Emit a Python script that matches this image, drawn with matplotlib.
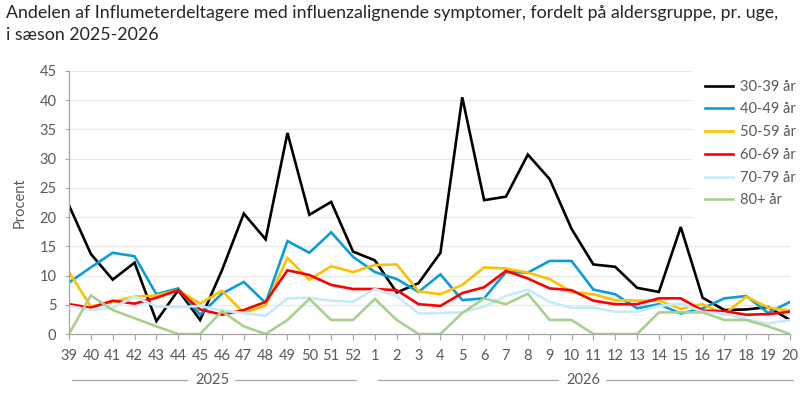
import numpy as np
import matplotlib
matplotlib.use("Agg")
import matplotlib.pyplot as plt
import matplotlib.transforms as mtransforms

# --------- DATA -----------
weeks = [39, 40, 41, 42, 43, 44, 45, 46, 47, 48, 49, 50, 51, 52,
         1, 2, 3, 4, 5, 6, 7, 8, 9, 10, 11, 12, 13, 14, 15, 16, 17, 18, 19, 20]
years = [("2025", 0, 13), ("2026", 14, 33)]  # label, first index, last index

age_30_39 = [22.0, 13.7, 9.3, 12.2, 2.2, 7.5, 2.4, 10.9, 20.6, 16.2, 34.4, 20.4, 22.6, 14.1,
             12.6, 7.1, 8.7, 13.9, 40.5, 22.9, 23.5, 30.7, 26.5, 18.0, 11.9, 11.5, 7.9, 7.2,
             18.3, 6.2, 4.1, 4.2, 4.6, 2.4]
age_40_49 = [8.8, 11.4, 13.9, 13.3, 6.8, 7.8, 3.3, 6.9, 8.9, 5.3, 15.9, 13.9, 17.4, 13.2,
             10.6, 9.4, 7.2, 10.2, 5.8, 6.1, 10.6, 10.5, 12.5, 12.5, 7.6, 6.8, 4.4, 5.1,
             3.5, 4.4, 6.1, 6.5, 3.6, 5.5]
age_50_59 = [10.6, 4.7, 5.5, 6.4, 6.6, 7.5, 5.2, 7.4, 3.6, 4.9, 13.0, 9.3, 11.6, 10.6,
             11.8, 11.9, 7.3, 6.8, 8.4, 11.4, 11.2, 10.5, 9.4, 7.2, 6.8, 5.8, 5.7, 5.7,
             4.3, 5.1, 3.4, 6.4, 4.5, 4.0]
age_60_69 = [5.1, 4.5, 5.7, 5.2, 6.2, 7.5, 4.2, 3.3, 4.1, 5.5, 10.9, 10.1, 8.4, 7.7,
             7.7, 7.5, 5.1, 4.8, 7.0, 8.0, 10.8, 9.5, 7.8, 7.5, 5.7, 5.1, 5.1, 6.1,
             6.1, 4.0, 3.9, 3.3, 3.4, 3.8]
age_70_79 = [4.8, 4.1, 4.5, 6.4, 4.7, 4.6, 4.8, 4.0, 3.6, 3.1, 6.1, 6.2, 5.7, 5.5,
             7.7, 6.5, 3.5, 3.6, 3.7, 4.7, 6.5, 7.6, 5.5, 4.5, 4.5, 3.8, 3.8, 4.8,
             5.2, 3.8, 3.5, 2.5, 1.8, 2.4]
age_80 = [0, 6.6, 4.1, 2.7, 1.3, 0, 0, 3.9, 1.3, 0, 2.4, 6.0, 2.4, 2.4,
          6.0, 2.4, 0, 0, 3.6, 6.1, 5.1, 6.9, 2.4, 2.4, 0, 0, 0, 3.7,
          3.7, 3.7, 2.4, 2.4, 1.3, 0]

series = [
    ("30-39 år", age_30_39, "#000000"),
    ("40-49 år", age_40_49, "#0a9ed8"),
    ("50-59 år", age_50_59, "#ffc000"),
    ("60-69 år", age_60_69, "#ff0000"),
    ("70-79 år", age_70_79, "#c6eafb"),
    ("80+ år", age_80, "#a9d18e"),
]

title = ("Andelen af Influmeterdeltagere med influenzalignende symptomer, fordelt på aldersgruppe, pr. uge,\n"
         "i sæson 2025-2026")

# --------- PLOT -----------
plt.rcParams["font.family"] = ["Lato", "DejaVu Sans"]
TXT = "#595959"
AX = "#a6a6a6"

fig = plt.figure(figsize=(8, 4.13), dpi=100)
ax = fig.add_axes([69 / 800, 79 / 413, 721 / 800, 263 / 413])

x = np.arange(len(weeks))
for name, vals, col in series:
    ax.plot(x, vals, color=col, lw=1.9, label=name, solid_joinstyle="miter")

ax.set_xlim(0, len(weeks) - 1)
ax.set_ylim(0, 45)
ax.set_yticks(np.arange(0, 46, 5))
ax.set_xticks(x)
ax.set_xticklabels([str(w) for w in weeks])
ax.grid(axis="y", color="#e8e8e8", lw=0.9)
ax.set_axisbelow(True)

for s in ["top", "right"]:
    ax.spines[s].set_visible(False)
for s in ["left", "bottom"]:
    ax.spines[s].set_color(AX)
    ax.spines[s].set_linewidth(0.9)

ax.tick_params(axis="x", length=4, width=0.8, color=AX, pad=7, labelsize=10.5, labelcolor=TXT)
ax.tick_params(axis="y", length=3, width=0.8, color=AX, pad=6, labelsize=10.5, labelcolor=TXT)

fig.text(20 / 800, 0.51, "Procent", rotation=90, ha="center", va="center",
         color=TXT, fontsize=10.5)

fig.text(6 / 800, 1 - 5 / 413, title, ha="left", va="top", color="#262626",
         fontsize=12.8, linespacing=1.45)

# year labels below the week ticks
trans = mtransforms.blended_transform_factory(ax.transData, ax.transAxes)
yy = -0.175
for label, i0, i1 in years:
    mid = (i0 + i1) / 2
    gap = 1.1
    ax.plot([i0 + 0.15, mid - gap], [yy, yy], transform=trans, color=AX, lw=0.9, clip_on=False)
    ax.plot([mid + gap, i1 + 0.15], [yy, yy], transform=trans, color=AX, lw=0.9, clip_on=False)
    ax.text(mid + 0.05, yy, label, transform=trans, ha="center", va="center",
            color=TXT, fontsize=10.5)

leg = ax.legend(loc="upper left", bbox_to_anchor=(0.8655, 1.0114), frameon=True,
                fontsize=10.5, handlelength=1.95, handletextpad=0.45, labelspacing=0.6,
                borderpad=0.8, borderaxespad=0)
leg.get_frame().set_facecolor("white")
leg.get_frame().set_edgecolor("none")
leg.get_frame().set_alpha(1)
for t in leg.get_texts():
    t.set_color(TXT)

fig.savefig("out.png", dpi=100)
